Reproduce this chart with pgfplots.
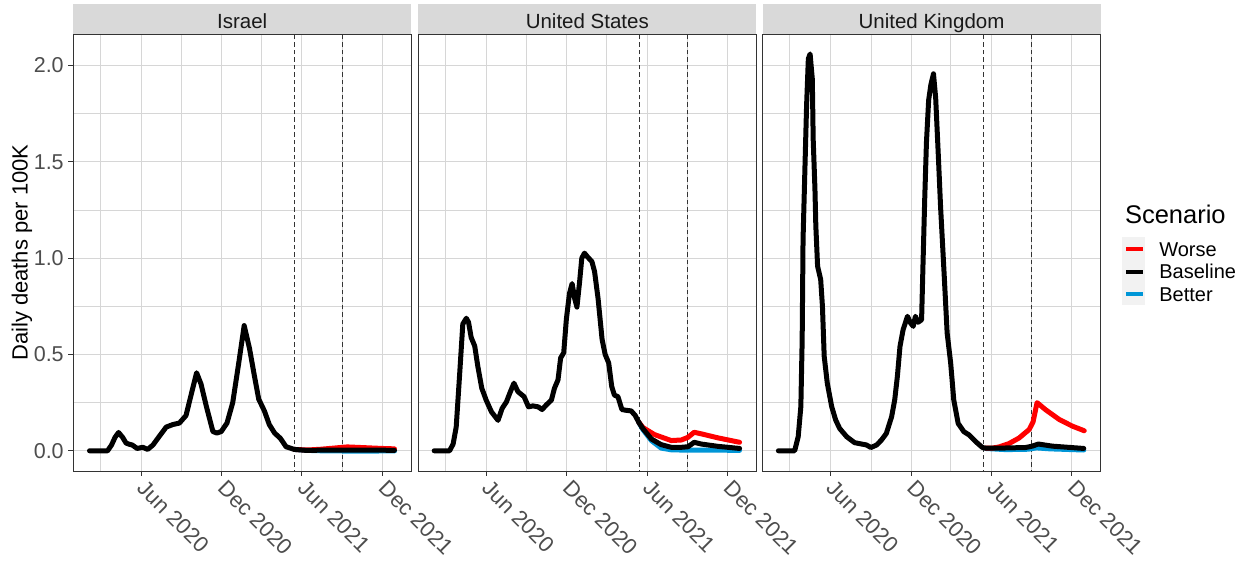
\documentclass[border=0pt]{standalone}
\usepackage{pgfplots}
\pgfplotsset{compat=1.18}
\usepackage{fontspec}
\setmainfont{Liberation Sans}
\definecolor{gridc}{RGB}{214,214,214}
\definecolor{stripc}{RGB}{217,217,217}
\definecolor{tickc}{RGB}{77,77,77}
\definecolor{borderc}{RGB}{51,51,51}
\definecolor{worse}{RGB}{255,0,0}
\definecolor{better}{RGB}{0,150,215}
\definecolor{keybg}{RGB}{242,242,242}
\newcommand{\fs}[1]{\fontsize{#1}{#1}\selectfont}

\tikzset{vdash/.style={draw=borderc, line width=0.9pt, dash pattern=on 4.5pt off 3pt}}
\pgfplotsset{
  panel/.style={
    scale only axis, width=338pt, height=436.7pt, anchor=south west,
    xmin=-2, xmax=765, ymin=-0.105, ymax=2.162,
    axis line style={draw=borderc, line width=1pt},
    xtick={152,335,517,700},
    xticklabels={Jun 2020,Dec 2020,Jun 2021,Dec 2021},
    minor xtick={60,244,425,609},
    ytick={0,0.5,1,1.5,2},
    minor ytick={0.25,0.75,1.25,1.75},
    grid=both,
    major grid style={draw=gridc, line width=1pt},
    minor grid style={draw=gridc, line width=0.8pt},
    tick pos=left, tick align=outside,
    major tick length=4.8pt, minor tick length=0pt,
    tick style={draw=borderc, line width=1pt},
    xticklabel style={font=\fs{22}, text=tickc, rotate=-45, anchor=north west, inner sep=1pt, xshift=5pt, yshift=3pt},
    yticklabel style={font=\fs{21.5}, text=tickc, inner sep=4.5pt},
    every axis plot/.append style={line width=5pt, line join=round, line cap=round},
  },
}

\begin{document}
\begin{tikzpicture}
\useasboundingbox (0,0) rectangle (1252pt,560pt);
% facet strips
\fill[stripc] (73.2pt,525.7pt) rectangle (411.2pt,556pt);
\fill[stripc] (418.3pt,525.7pt) rectangle (756.3pt,556pt);
\fill[stripc] (762.5pt,525.7pt) rectangle (1100.5pt,556pt);
\node[anchor=base, font=\fs{20.5}, text=black!90] at (242.2pt,531.6pt) {Israel};
\node[anchor=base, font=\fs{20.5}, text=black!90] at (587.3pt,531.6pt) {United States};
\node[anchor=base, font=\fs{20.5}, text=black!90] at (931.5pt,531.6pt) {United Kingdom};
% legend title and key background
\node[anchor=base west, font=\fs{25.5}] at (1121.5pt,336.7pt) {Scenario};
\fill[keybg] (1122pt,255pt) rectangle (1145pt,323pt);

% ---------------- Israel ----------------
\begin{axis}[panel, at={(73.2pt,89pt)},
  yticklabels={0.0,0.5,1.0,1.5,2.0},
  ylabel={Daily deaths per 100K},
  ylabel style={font=\fs{22}, at={(axis description cs:-0.152,0.5)}, anchor=center}]
\draw[vdash] (axis cs:500,-0.2) -- (axis cs:500,2.3);
\draw[vdash] (axis cs:609,-0.2) -- (axis cs:609,2.3);
\addplot[better] coordinates {(500,0.007) (530,0.002) (560,0.000) (600,-0.001) (650,-0.002) (700,-0.001) (727,-0.001)};
\addplot[worse] coordinates {(500,0.007) (530,0.004) (560,0.008) (580,0.012) (600,0.016) (620,0.02) (640,0.018) (670,0.015) (700,0.012) (727,0.01)};
\addplot[black] coordinates {(35,0) (60,0) (76,0) (85,0.03) (93,0.07) (101,0.095) (110,0.07) (118,0.04) (125,0.034) (132,0.03) (143,0.012) (156,0.018) (167,0.007) (179,0.03) (194,0.077) (209,0.123) (224,0.136) (239,0.144) (254,0.183) (265,0.285) (278,0.405) (288,0.347) (300,0.232) (315,0.10) (324,0.092) (334,0.10) (347,0.144) (360,0.25) (374,0.461) (386,0.65) (398,0.532) (409,0.391) (419,0.268) (432,0.206) (443,0.136) (455,0.092) (468,0.065) (481,0.021) (500,0.007) (527,0.002) (560,0.003) (600,0.004) (650,0.004) (700,0.003) (727,0.002)};
\end{axis}

% ---------------- United States ----------------
\begin{axis}[panel, at={(418.3pt,89pt)}, yticklabels={}, ytick style={draw=none}]
\draw[vdash] (axis cs:500,-0.2) -- (axis cs:500,2.3);
\draw[vdash] (axis cs:609,-0.2) -- (axis cs:609,2.3);
\addplot[better] coordinates {(498,0.149) (508,0.109) (527,0.053) (549,0.014) (572,0.005) (610,0.003) (650,0.004) (727,0.002)};
\addplot[worse] coordinates {(498,0.149) (508,0.12) (534,0.084) (572,0.053) (595,0.056) (610,0.07) (624,0.096) (640,0.088) (678,0.067) (727,0.044)};
\addplot[black] coordinates {(34,0) (69,0) (77,0.035) (84,0.123) (92,0.404) (99,0.658) (107,0.688) (112,0.667) (118,0.588) (126,0.544) (133,0.439) (142,0.325) (152,0.263) (164,0.202) (179,0.158) (188,0.219) (198,0.254) (207,0.307) (215,0.351) (224,0.307) (238,0.281) (248,0.228) (258,0.233) (270,0.228) (279,0.214) (288,0.237) (300,0.263) (307,0.325) (315,0.368) (321,0.482) (328,0.509) (334,0.684) (341,0.816) (347,0.868) (353,0.789) (358,0.746) (364,0.877) (369,1.0) (375,1.026) (383,1.004) (392,0.982) (398,0.93) (406,0.789) (415,0.579) (422,0.50) (430,0.456) (437,0.333) (443,0.289) (451,0.281) (460,0.214) (470,0.21) (481,0.207) (490,0.184) (498,0.149) (508,0.114) (527,0.061) (549,0.032) (572,0.018) (595,0.018) (610,0.021) (624,0.044) (640,0.035) (678,0.023) (727,0.012)};
\end{axis}

% ---------------- United Kingdom ----------------
\begin{axis}[panel, at={(762.5pt,89pt)}, yticklabels={}, ytick style={draw=none},
  legend style={at={(axis description cs:1.0695,0.5235)}, anchor=north west,
    draw=none, fill=none, inner sep=0pt, outer sep=0pt, font=\fs{20},
    row sep={22.5pt,between origins}, column sep=14pt,
    nodes={inner sep=0pt, anchor=base west}},
  legend cell align=left,
  legend image code/.code={\draw[#1, line width=4.3pt, line cap=butt] (0pt,6.8pt) -- (17pt,6.8pt);}]
\addlegendimage{worse}\addlegendentry{Worse}
\addlegendimage{black}\addlegendentry{Baseline}
\addlegendimage{better}\addlegendentry{Better}
\draw[vdash] (axis cs:500,-0.2) -- (axis cs:500,2.3);
\draw[vdash] (axis cs:609,-0.2) -- (axis cs:609,2.3);
\addplot[better, forget plot] coordinates {(504,0.012) (550,0.006) (600,0.008) (620,0.015) (650,0.01) (727,0.004)};
\addplot[worse, forget plot] coordinates {(504,0.014) (520,0.014) (535,0.02) (557,0.037) (580,0.066) (603,0.11) (612,0.15) (621,0.25) (641,0.212) (671,0.163) (701,0.128) (728,0.104)};
\addplot[black, forget plot] coordinates {(34,0) (71,0) (79,0.073) (85,0.229) (88,0.576) (90,1.097) (94,1.444) (98,1.79) (102,2.035) (106,2.06) (111,1.93) (113,1.618) (117,1.358) (119,1.167) (123,0.958) (130,0.889) (134,0.75) (138,0.49) (145,0.351) (155,0.229) (164,0.16) (173,0.116) (189,0.073) (207,0.042) (223,0.035) (234,0.03) (244,0.017) (257,0.03) (268,0.056) (279,0.09) (291,0.177) (298,0.264) (304,0.385) (310,0.542) (317,0.628) (327,0.698) (334,0.663) (340,0.646) (345,0.698) (351,0.667) (359,0.68) (362,0.95) (366,1.3) (370,1.6) (375,1.82) (380,1.9) (386,1.957) (391,1.83) (397,1.531) (402,1.27) (410,0.924) (417,0.611) (425,0.455) (432,0.264) (442,0.142) (455,0.099) (467,0.082) (482,0.047) (497,0.017) (504,0.014) (542,0.014) (595,0.017) (610,0.024) (624,0.035) (656,0.024) (727,0.012)};
\end{axis}
\end{tikzpicture}
\end{document}
